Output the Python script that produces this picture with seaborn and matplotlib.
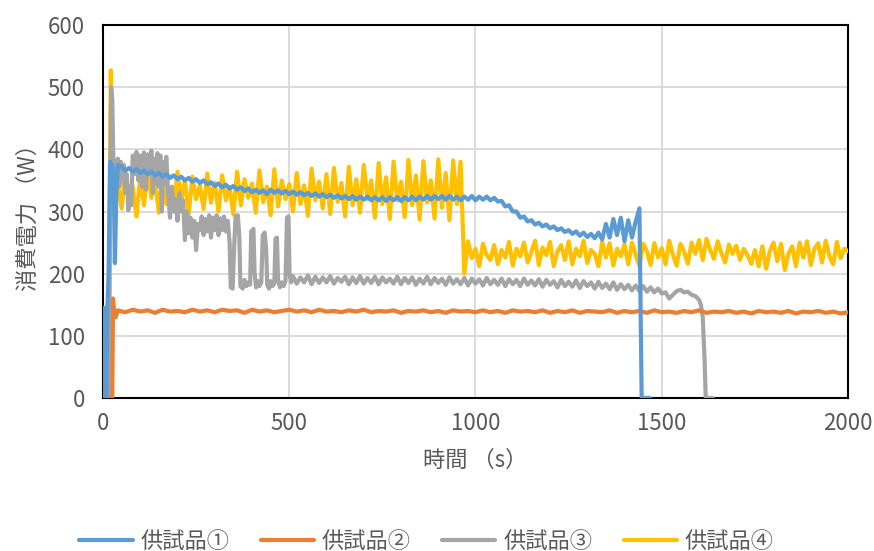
import numpy as np
import matplotlib
matplotlib.use("Agg")
import matplotlib.pyplot as plt
from matplotlib.ticker import MultipleLocator
import seaborn as sns

# 供試品① (blue) -- start, 10 s grid from 50 s, tail
blue_t0 = [0, 2, 4, 6, 9, 12, 15, 19, 23, 27, 30, 32, 36, 40]
blue_w0 = [0, 145, 0, 145, 0, 145, 200, 380, 376, 370, 300, 217, 330, 375]
blue_w = [
    372, 366, 370, 364, 368, 362, 366, 360, 364, 358,
    362, 356, 360, 354, 358, 352, 356, 350, 354, 348,
    352, 346, 350, 344, 347, 341, 345, 339, 343, 337,
    341, 335, 339, 333, 337, 331, 335, 330, 334, 328,
    335, 330, 334, 329, 333, 328, 332, 327, 331, 326,
    330, 325, 329, 324, 328, 323, 327, 322, 326, 321,
    325, 320, 325, 319, 324, 319, 324, 318, 323, 318,
    323, 317, 323, 318, 323, 317, 323, 318, 324, 318,
    324, 319, 325, 319, 325, 320, 325, 319, 325, 319,
    324, 318, 324, 319, 325, 318, 324, 319, 324, 318,
    322, 316, 317, 308, 310, 300, 300, 290, 292, 284,
    286, 279, 282, 276, 279, 273, 276, 270, 273, 267,
    270, 264, 268, 261, 266, 259, 264, 257, 266, 255,
    280, 258, 288, 262, 290, 252, 286, 258, 284, 305,
]
blue_t1 = [1443, 1446, 1450, 1468]
blue_w1 = [150, 0, 0, 0]

# 供試品② (orange) -- start, 20 s grid from 40 s
orange_t0 = [0, 22, 25, 27, 30, 34]
orange_w0 = [0, 0, 0, 160, 138, 130]
orange_w = [
    141, 138, 142, 139, 141, 137, 142, 139, 140, 138,
    142, 139, 141, 138, 142, 140, 141, 137, 142, 139,
    141, 138, 140, 142, 139, 141, 138, 142, 139, 140,
    138, 141, 139, 142, 138, 140, 139, 141, 137, 140,
    139, 141, 138, 140, 137, 141, 139, 140, 138, 141,
    138, 140, 137, 141, 139, 140, 138, 141, 137, 140,
    138, 141, 137, 140, 139, 138, 141, 137, 140, 138,
    140, 137, 141, 138, 139, 137, 140, 138, 141, 137,
    139, 138, 140, 137, 139, 136, 140, 138, 139, 137,
    140, 136, 139, 138, 140, 137, 139, 136, 138,
]

# 供試品③ (gray) -- irregular start up to 505 s, 10 s grid from 510 s, tail
gray_t0 = [0, 16, 19, 22, 25, 28, 31, 35, 40, 44, 48, 52, 56, 60, 64, 68, 72, 76,
           80, 85, 90, 95, 100, 105, 110, 115, 120, 125, 130, 134, 138, 142, 146,
           150, 154, 158, 162, 166, 170, 175, 180, 185, 190, 195, 200, 205, 210,
           215, 220, 225, 230, 235, 240, 245, 250, 255, 260, 265, 270, 275, 280,
           285, 290, 295, 300, 305, 310, 315, 320, 325, 330, 335, 340, 343, 348,
           352, 356, 362, 366, 369, 375, 380, 385, 390, 395, 398, 404, 407, 411,
           416, 420, 425, 429, 434, 438, 441, 446, 450, 455, 460, 463, 467, 470,
           475, 480, 485, 490, 494, 498, 501, 505]
gray_w0 = [0, 0, 300, 500, 480, 380, 330, 360, 385, 340, 380, 350, 375, 330, 360, 302, 340, 310,
           390, 360, 396, 350, 390, 340, 395, 335, 392, 360, 398, 330, 385, 345, 394,
           340, 390, 300, 380, 345, 388, 330, 290, 340, 300, 320, 285, 330, 300,
           318, 254, 300, 265, 290, 258, 285, 238, 280, 270, 292, 262, 288, 268,
           294, 258, 290, 270, 294, 262, 289, 270, 292, 268, 285, 250, 178, 176,
           240, 292, 294, 260, 180, 176, 190, 180, 186, 182, 268, 272, 200, 178,
           188, 180, 186, 262, 266, 240, 182, 176, 188, 180, 184, 256, 258, 190,
           178, 186, 180, 188, 290, 292, 200, 186]
gray_w = [
    196, 184, 194, 186, 197, 183, 195, 185, 194, 186,
    196, 184, 193, 187, 195, 183, 194, 185, 196, 184,
    193, 185, 195, 183, 194, 186, 192, 184, 195, 183,
    193, 185, 194, 182, 192, 184, 195, 183, 193, 185,
    192, 182, 194, 184, 191, 183, 193, 181, 192, 184,
    191, 181, 193, 183, 190, 182, 192, 180, 191, 183,
    190, 180, 192, 182, 189, 181, 191, 179, 190, 182,
    188, 178, 190, 180, 187, 179, 189, 177, 188, 180,
    186, 176, 187, 177, 184, 175, 186, 174, 183, 175,
    182, 173, 181, 172, 180, 171, 178, 170, 176, 168,
    170, 160, 166, 172, 174, 170, 171, 166, 164, 158,
]
gray_t1 = [1605, 1610, 1615, 1618, 1637]
gray_w1 = [150, 130, 60, 0, 0]

# 供試品④ (yellow) -- start, 10 s grid 30-960 s, 10 s grid 970-2000 s
yellow_t0 = [15, 18, 21, 24, 27]
yellow_w0 = [0, 260, 527, 420, 330]
yellow_w1 = [
    300, 345, 305, 362, 318, 340, 292, 355, 310, 366,
    322, 348, 298, 360, 312, 338, 302, 364, 316, 350,
    296, 356, 320, 342, 304, 361, 314, 346, 300, 358,
    318, 340, 295, 364, 310, 352, 322, 345, 298, 366,
    315, 340, 294, 368, 308, 350, 320, 344, 300, 362,
    312, 342, 293, 369, 318, 348, 305, 360, 296, 370,
    316, 346, 292, 372, 310, 352, 298, 375, 320, 350,
    290, 378, 312, 355, 288, 380, 318, 348, 291, 383,
    310, 358, 287, 381, 315, 350, 289, 384, 306, 362,
    286, 382, 312, 380,
]
yellow_w2 = [
    200, 252, 225, 240, 212, 248, 230, 222, 246, 215,
    238, 226, 251, 213, 240, 228, 250, 218, 235, 253,
    214, 242, 230, 251, 212, 236, 246, 222, 252, 215,
    240, 228, 253, 217, 238, 232, 212, 251, 226, 249,
    213, 240, 228, 247, 215, 250, 230, 212, 248, 236,
    214, 249, 226, 241, 215, 253, 230, 213, 248, 235,
    216, 250, 232, 254, 222, 256, 238, 224, 252, 233,
    218, 247, 232, 245, 222, 240, 230, 216, 238, 212,
    244, 208, 236, 250, 220, 248, 206, 232, 244, 212,
    250, 226, 252, 214, 240, 249, 218, 253, 228, 215,
    251, 225, 240, 236,
]

labels = ["供試品①", "供試品②", "供試品③", "供試品④"]
colors = ["#5B9BD5", "#ED7D31", "#A5A5A5", "#FFC000"]


def grid_t(start, step, vals):
    return start + step * np.arange(len(vals))


series = [
    (np.concatenate([blue_t0, grid_t(50, 10, blue_w), blue_t1]),
     np.concatenate([blue_w0, blue_w, blue_w1])),
    (np.concatenate([orange_t0, grid_t(40, 20, orange_w)]),
     np.concatenate([orange_w0, orange_w])),
    (np.concatenate([gray_t0, grid_t(510, 10, gray_w), gray_t1]),
     np.concatenate([gray_w0, gray_w, gray_w1])),
    (np.concatenate([yellow_t0, grid_t(30, 10, yellow_w1), grid_t(970, 10, yellow_w2)]),
     np.concatenate([yellow_w0, yellow_w1, yellow_w2])),
]

sns.set_style("white")
plt.rcParams['font.family'] = ['Noto Sans CJK JP', 'DejaVu Sans']

fig = plt.figure(figsize=(8.74, 5.51), dpi=100)
ax = fig.add_axes([0.1178, 0.2777, 0.8525, 0.6769])

for i, (t, w) in enumerate(series):
    sns.lineplot(x=t, y=w, ax=ax, color=colors[i], linewidth=3.0,
                 label=labels[i], sort=False, estimator=None, zorder=10 - i)

ax.set_xlim(0, 2000)
ax.set_ylim(0, 600)
ax.xaxis.set_major_locator(MultipleLocator(500))
ax.xaxis.set_minor_locator(MultipleLocator(100))
ax.yaxis.set_major_locator(MultipleLocator(100))
ax.set_axisbelow(True)
ax.grid(True, which='major', color='#D9D9D9', linewidth=1.3)

ax.tick_params(axis='both', which='both', direction='in', color='black',
               labelcolor='#595959', labelsize=16)
ax.tick_params(axis='x', which='both', length=5, width=1, pad=10)
ax.tick_params(axis='y', which='major', length=5, width=1, pad=13)
for s in ax.spines.values():
    s.set_color('black')
    s.set_linewidth(1.5)

ax.set_xlabel("時間 （s）", fontsize=16, color='#595959', labelpad=10)
ax.set_ylabel("消費電力 （W）", fontsize=16, color='#595959', labelpad=6)

handles, labs = ax.get_legend_handles_labels()
ax.get_legend().remove()
fig.legend(handles, labs, loc='center', bbox_to_anchor=(0.488, 0.018), ncol=4,
           frameon=False, fontsize=16, handlelength=2.4, handletextpad=0.36,
           columnspacing=1.4, labelcolor='#595959')

fig.savefig("out.png", dpi=100)
